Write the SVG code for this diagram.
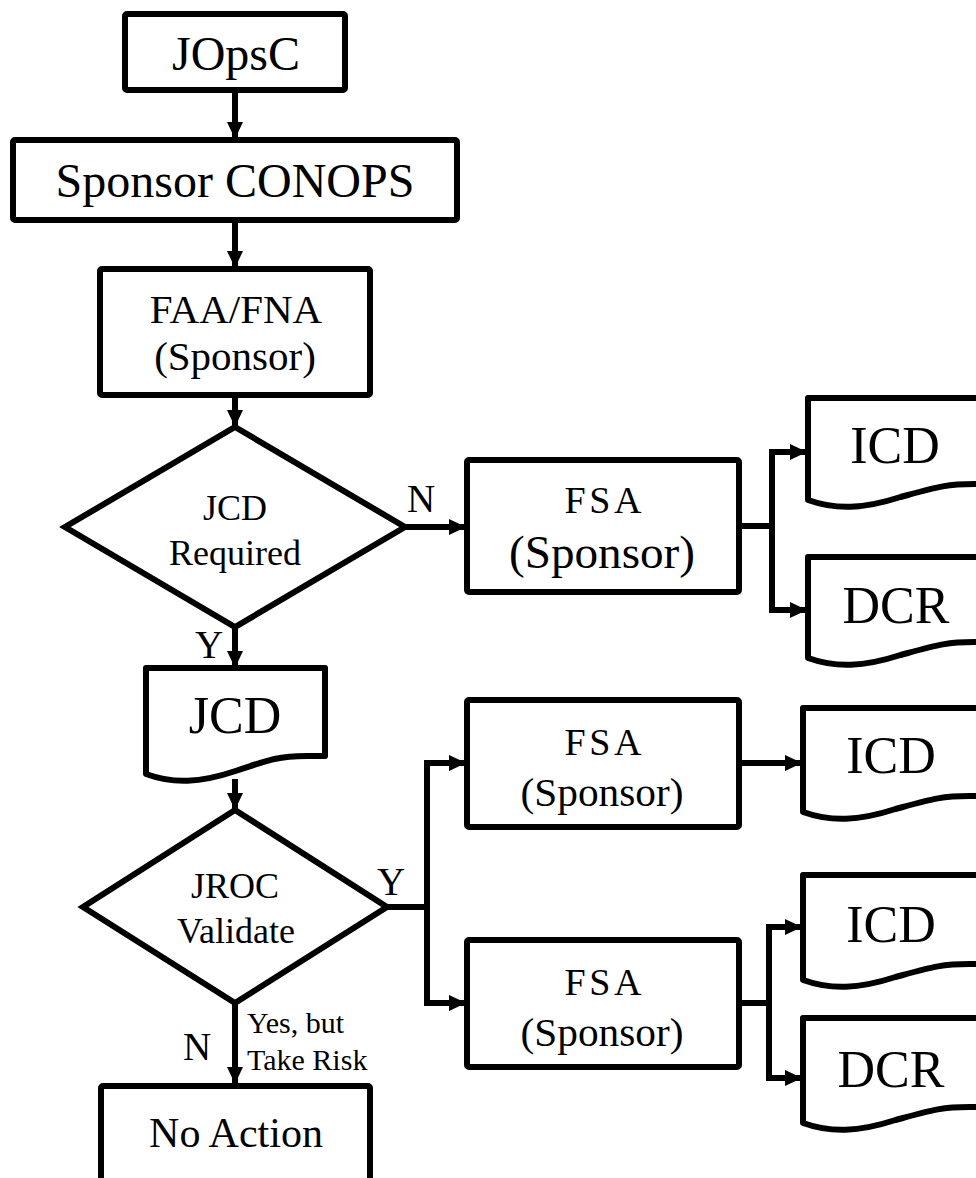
<svg xmlns="http://www.w3.org/2000/svg" width="976" height="1178" viewBox="0 0 976 1178">
<style>
.box{fill:#fff;stroke:#000;stroke-width:6;stroke-linejoin:round}
.dia{fill:#fff;stroke:#000;stroke-width:6;stroke-linejoin:miter}
.con{fill:none;stroke:#000;stroke-width:6;stroke-linejoin:miter}
text{font-family:"Liberation Serif","Times New Roman",serif;fill:#000;text-anchor:middle}
.big{font-size:48px}
.doc{font-size:52px}
.mid{font-size:41px}
.dt{font-size:36px}
.lbl{font-size:39px}
.sm{font-size:30px;text-anchor:start}
</style>
<defs>
<marker id="ah" markerUnits="userSpaceOnUse" markerWidth="17" markerHeight="16" refX="17" refY="8" orient="auto">
<path d="M0,0 L17,8 L0,16 Z" fill="#000"/>
</marker>
</defs>
<rect width="976" height="1178" fill="#fff"/>
<g id="connectors">
<path class="con" d="M235,90 V139" marker-end="url(#ah)"/>
<path class="con" d="M235,220 V268" marker-end="url(#ah)"/>
<path class="con" d="M235,395 V427" marker-end="url(#ah)"/>
<path class="con" d="M405,527 H466" marker-end="url(#ah)"/>
<path class="con" d="M235,627 V668" marker-end="url(#ah)"/>
<path class="con" d="M739,526 H772 V452 H807" marker-end="url(#ah)"/>
<path class="con" d="M739,526 H772 V610 H807" marker-end="url(#ah)"/>
<path class="con" d="M235,779 V810" marker-end="url(#ah)"/>
<path class="con" d="M387,907 H427 V763 H466" marker-end="url(#ah)"/>
<path class="con" d="M387,907 H427 V1003 H466" marker-end="url(#ah)"/>
<path class="con" d="M739,763 H802" marker-end="url(#ah)"/>
<path class="con" d="M739,1003 H769 V927 H802" marker-end="url(#ah)"/>
<path class="con" d="M739,1003 H769 V1078 H802" marker-end="url(#ah)"/>
<path class="con" d="M235,1003 V1084" marker-end="url(#ah)"/>
</g>
<g id="jopsc">
<rect class="box" x="125" y="14" width="220" height="76" rx="2"/>
<text class="big" x="236" y="70">JOpsC</text>
</g>
<g id="conops">
<rect class="box" x="13" y="140" width="444" height="80" rx="2"/>
<text class="big" x="235" y="197" font-size="47">Sponsor CONOPS</text>
</g>
<g id="faa">
<rect class="box" x="100" y="269" width="270" height="126" rx="2"/>
<text class="mid" x="236" y="323">FAA/FNA</text>
<text class="mid" x="235" y="370">(Sponsor)</text>
</g>
<g id="jcdreq">
<polygon class="dia" points="235,427 405,527 235,627 65,527"/>
<text class="dt" x="235" y="520">JCD</text>
<text class="dt" x="235" y="565">Required</text>
</g>
<text class="lbl" x="421" y="512">N</text>
<g id="fsa1">
<rect class="box" x="467" y="460" width="272" height="132" rx="2"/>
<text x="603" y="513" font-size="38" textLength="77" lengthAdjust="spacing">FSA</text>
<text x="602" y="568" font-size="46" textLength="186" lengthAdjust="spacingAndGlyphs">(Sponsor)</text>
</g>
<g id="icd1">
<path class="box" d="M808,398 H993 V484 H974.5 C946.75,484 937.5,487 900.5,497 C863.5,509 835.75,510 808,500 Z"/>
<text class="doc" x="895" y="463">ICD</text>
</g>
<g id="dcr1">
<path class="box" d="M808,557 H993 V642 H974.5 C946.75,642 937.5,645 900.5,655 C863.5,667 835.75,668 808,658 Z"/>
<text class="doc" x="896" y="623">DCR</text>
</g>
<text class="lbl" x="209" y="658">Y</text>
<g id="jcd">
<path class="box" d="M146,668 H325 V756 H307 C280,756 271,759 235.5,771 C200,783 173,784 146,774 Z"/>
<text class="doc" x="235" y="733">JCD</text>
</g>
<g id="jroc">
<polygon class="dia" points="235,810 387,907 235,1003 83,907"/>
<text class="dt" x="235" y="898">JROC</text>
<text class="dt" x="236" y="943">Validate</text>
</g>
<text class="lbl" x="391" y="895">Y</text>
<g id="fsa2">
<rect class="box" x="467" y="700" width="272" height="127" rx="2"/>
<text x="603" y="755" font-size="38" textLength="77" lengthAdjust="spacing">FSA</text>
<text x="602" y="806" font-size="39" textLength="163" lengthAdjust="spacingAndGlyphs">(Sponsor)</text>
</g>
<g id="icd2">
<path class="box" d="M803,708 H988 V796 H969.5 C941.75,796 932.5,799 895.5,809 C858.5,821 830.75,822 803,812 Z"/>
<text class="doc" x="891" y="773">ICD</text>
</g>
<g id="fsa3">
<rect class="box" x="467" y="940" width="272" height="127" rx="2"/>
<text x="603" y="995" font-size="38" textLength="77" lengthAdjust="spacing">FSA</text>
<text x="602" y="1046" font-size="39" textLength="163" lengthAdjust="spacingAndGlyphs">(Sponsor)</text>
</g>
<g id="icd3">
<path class="box" d="M803,875 H988 V964 H969.5 C941.75,964 932.5,967 895.5,977 C858.5,989 830.75,990 803,980 Z"/>
<text class="doc" x="891" y="942">ICD</text>
</g>
<g id="dcr3">
<path class="box" d="M803,1018 H988 V1107 H969.5 C941.75,1107 932.5,1110 895.5,1120 C858.5,1132 830.75,1133 803,1123 Z"/>
<text class="doc" x="891" y="1087">DCR</text>
</g>
<text class="lbl" x="197" y="1060">N</text>
<text class="sm" x="247" y="1033">Yes, but</text>
<text class="sm" x="247" y="1070">Take Risk</text>
<g id="noaction">
<rect class="box" x="101" y="1086" width="269" height="120" rx="2"/>
<text x="236" y="1147" font-size="42">No Action</text>
</g>
</svg>
